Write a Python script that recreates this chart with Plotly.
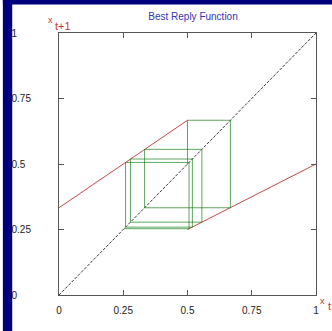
import plotly.graph_objects as go

# Data
diag_x = [0, 1]
diag_y = [0, 1]
upper_x = [0, 0.5]
upper_y = [0.333, 0.667]
lower_x = [0.5, 1]
lower_y = [0.25, 0.5]
# cobweb iterates x_t
iterates = [0.5, 0.667, 0.333, 0.556, 0.278, 0.519, 0.259, 0.506, 0.253]

tick_vals = [0, 0.25, 0.5, 0.75, 1]
x_tick_text = ["0", "0.25", "0.5", "0.75", "1"]
y_tick_text = ["0", "0.25", "0.5", "0.75", "1"]

W, H = 332, 331
L, R, T, B = 55, 16, 33, 36
pw, ph = W - L - R, H - T - B

fig = go.Figure()
fig.add_trace(go.Scatter(x=diag_x, y=diag_y, mode="lines",
                         line=dict(color="#3a3a3a", width=1, dash="3px,1.5px")))
fig.add_trace(go.Scatter(x=upper_x, y=upper_y, mode="lines",
                         line=dict(color="#c84848", width=1)))
fig.add_trace(go.Scatter(x=lower_x, y=lower_y, mode="lines",
                         line=dict(color="#c84848", width=1)))

for a, b in zip(iterates[:-1], iterates[1:]):
    fig.add_trace(go.Scatter(x=[a, a, b], y=[a, b, b], mode="lines",
                             line=dict(color="rgba(10,120,10,0.65)", width=1)))

# pad y tick labels so they appear left-aligned like the reference
pad = {"0": 5, "0.25": 0, "0.5": 2, "0.75": 0, "1": 5}
y_tick_disp = [t + "&nbsp;" * pad[t] for t in y_tick_text]

axis_common = dict(range=[0, 1], tickvals=tick_vals,
                   ticks="inside", ticklen=5, tickcolor="#555555", tickwidth=1,
                   showline=True, linecolor="#555555", linewidth=1, mirror="ticks",
                   showgrid=False, zeroline=False, fixedrange=True,
                   tickfont=dict(family="Liberation Sans, Arial", size=10, color="#222222"))

fig.update_layout(
    width=W, height=H, autosize=False,
    margin=dict(l=L, r=R, t=T, b=B, pad=0),
    paper_bgcolor="white", plot_bgcolor="white",
    showlegend=False, hovermode=False,
    xaxis=dict(**axis_common, ticktext=x_tick_text, ticklabelstandoff=6),
    yaxis=dict(**axis_common, ticktext=y_tick_disp, ticklabelstandoff=25),
    title=dict(text="Best Reply Function", xref="container", x=193 / W, xanchor="center",
               y=1 - 16 / H, yanchor="middle",
               font=dict(family="Liberation Sans, Arial", size=10, color="#3535b0")),
)

def px(xp):
    return (xp - L) / pw

def py(yp):
    return 1 - (yp - T) / ph

# navy strips (top and left edges)
fig.add_shape(type="rect", xref="paper", yref="paper", x0=px(-2), x1=px(W + 2),
              y0=py(4.5), y1=py(-2), fillcolor="#00007f", line_width=0, layer="above")
fig.add_shape(type="rect", xref="paper", yref="paper", x0=px(-2), x1=px(7.5),
              y0=py(H + 2), y1=py(-2), fillcolor="#00007f", line_width=0, layer="above")

red = "#cc3333"
font_s = dict(family="Liberation Sans, Arial", size=9, color=red)
font_m = dict(family="Liberation Sans, Arial", size=11, color=red)
fig.add_annotation(text="x", xref="paper", yref="paper", x=px(46), y=py(20),
                   showarrow=False, font=font_s, xanchor="center", yanchor="middle")
fig.add_annotation(text="t+1", xref="paper", yref="paper", x=px(49), y=py(26),
                   showarrow=False, font=font_m, xanchor="left", yanchor="middle")
fig.add_annotation(text="x", xref="paper", yref="paper", x=px(323), y=py(301),
                   showarrow=False, font=font_s, xanchor="center", yanchor="middle")
fig.add_annotation(text="t", xref="paper", yref="paper", x=px(326.5), y=py(306),
                   showarrow=False, font=font_m, xanchor="left", yanchor="middle")

fig.write_html("out.html", config={"displayModeBar": False},
               post_script="document.body.style.margin='0';document.body.style.padding='0';")
